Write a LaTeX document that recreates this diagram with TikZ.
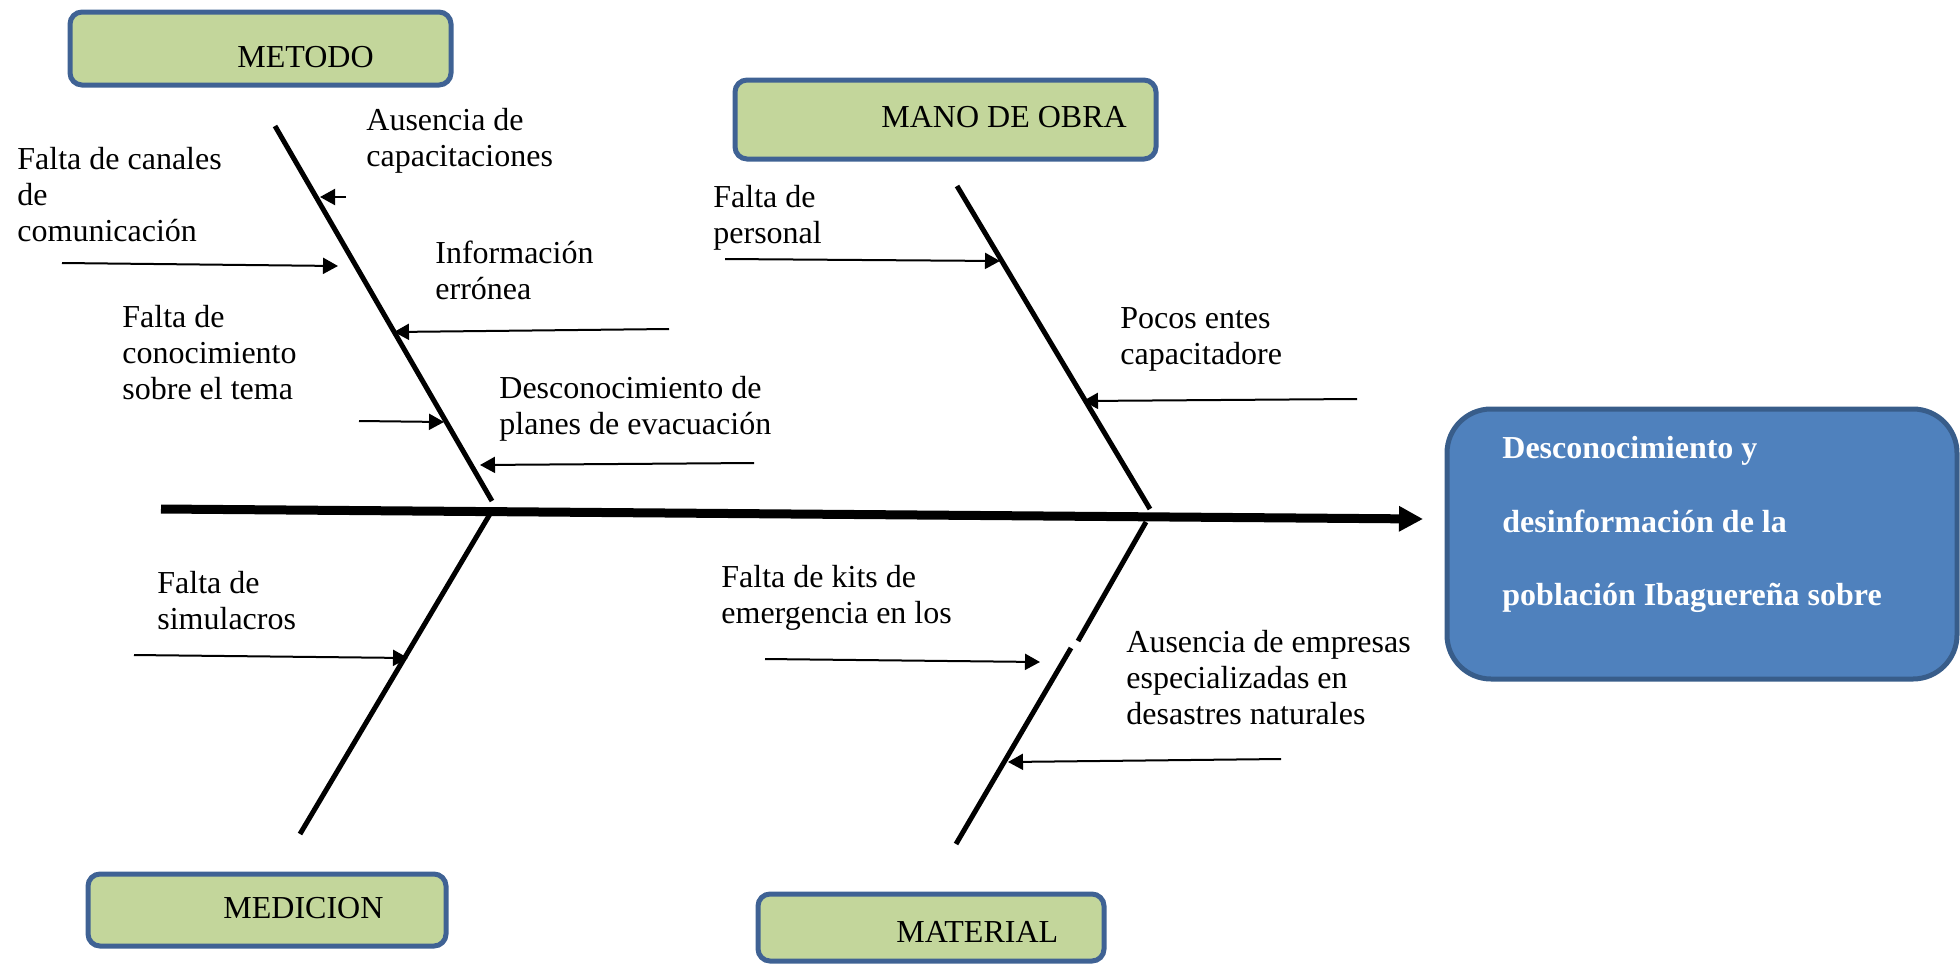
\documentclass[tikz,border=0pt]{standalone}
\usepackage{fontspec}
\setmainfont{Liberation Serif}
\usetikzlibrary{arrows.meta,fit}
\definecolor{boxfill}{HTML}{C3D69B}
\definecolor{boxline}{HTML}{3F6294}
\definecolor{effill}{HTML}{4F81BD}
\definecolor{efline}{HTML}{385D8A}
\newcommand\myfirststrut{\rule{0pt}{12.6pt}}
\begin{document}
\begin{tikzpicture}[x=0.5pt,y=-0.5pt,
  catbox/.style={draw=boxline, line width=2.5pt, fill=boxfill, rounded corners=6pt, inner sep=0pt},
  effbox/.style={draw=efline, line width=2.5pt, fill=effill, rounded corners=22pt, inner sep=0pt},
  cattext/.style={anchor=base west, inner sep=0pt, font=\fontsize{16}{18}\selectfont},
  lbl/.style={anchor=north west, inner sep=0pt, align=left, font=\fontsize{16}{18}\selectfont},
  efftext/.style={anchor=north west, inner sep=0pt, align=left, text=white, font=\fontsize{16}{36.75}\selectfont\bfseries},
  bone/.style={line width=2.5pt},
  spine/.style={line width=4.5pt, -{Triangle[length=12pt,width=12pt]}},
  arr/.style={line width=1pt, -{Triangle[length=7.5pt,width=8pt]}},
]
\useasboundingbox (0,0) rectangle (1960,964);

% category boxes
\node[catbox, fit={(70,12) (451,85)}] (metodo) {};
\node[cattext] (metodoT) at (237,67) {METODO};
\node[catbox, fit={(735,80) (1156,159)}] (mano) {};
\node[cattext] (manoT) at (881,127) {MANO DE OBRA};
\node[catbox, fit={(88,874) (446,946)}] (medicion) {};
\node[cattext] (medicionT) at (223,918) {MEDICION};
\node[catbox, fit={(758,894) (1104,961)}] (material) {};
\node[cattext] (materialT) at (896,942) {MATERIAL};

% effect box
\node[effbox, fit={(1447,409) (1957,679)}] (effect) {};
\node[efftext] (effectT) at (1502,433) {\myfirststrut Desconocimiento y\\desinformación de la\\población Ibaguereña sobre};

% spine
\coordinate (s0) at (161,509);
\coordinate (s1) at (1423,519);
\draw[spine] (s0) -- (s1);

% bones
\coordinate (b1a) at (275,126); \coordinate (b1b) at (492,501);
\coordinate (b2a) at (957,186); \coordinate (b2b) at (1150,509);
\coordinate (b3a) at (490,514); \coordinate (b3b) at (300,834);
\coordinate (b4a) at (1146,522); \coordinate (b4m1) at (1078,641);
\coordinate (b4m2) at (1071,648); \coordinate (b4b) at (956,844);
\draw[bone] (b1a) -- (b1b);
\draw[bone] (b2a) -- (b2b);
\draw[bone] (b3a) -- (b3b);
\draw[bone] (b4a) -- (b4m1);
\draw[bone] (b4m2) -- (b4b);

% labels
\node[lbl] (l1) at (366,105) {\myfirststrut Ausencia de\\capacitaciones};
\node[lbl] (l2) at (17,144) {\myfirststrut Falta de canales\\de\\comunicación};
\node[lbl] (l3) at (435,238) {\myfirststrut Información\\errónea};
\node[lbl] (l4) at (122,302) {\myfirststrut Falta de\\conocimiento\\sobre el tema};
\node[lbl] (l5) at (499,373) {\myfirststrut Desconocimiento de\\planes de evacuación};
\node[lbl] (l6) at (713,182) {\myfirststrut Falta de\\personal};
\node[lbl] (l7) at (1120,303) {\myfirststrut Pocos entes\\capacitadore};
\node[lbl] (l8) at (157,568) {\myfirststrut Falta de\\simulacros};
\node[lbl] (l9) at (721,562) {\myfirststrut Falta de kits de\\emergencia en los};
\node[lbl] (l10) at (1126,627) {\myfirststrut Ausencia de empresas\\especializadas en\\desastres naturales};

% cause arrows
\coordinate (a1s) at (346,197); \coordinate (a1e) at (320,197);
\coordinate (a2s) at (62,263); \coordinate (a2e) at (338,266);
\coordinate (a3s) at (669,329); \coordinate (a3e) at (394,332);
\coordinate (a4s) at (359,421); \coordinate (a4e) at (444,422);
\coordinate (a5s) at (754,463); \coordinate (a5e) at (480,465);
\coordinate (a6s) at (725,259); \coordinate (a6e) at (1000,261);
\coordinate (a7s) at (1357,399); \coordinate (a7e) at (1083,401);
\coordinate (a8s) at (134,655); \coordinate (a8e) at (408,658);
\coordinate (a9s) at (765,659); \coordinate (a9e) at (1040,662);
\coordinate (a10s) at (1281,759); \coordinate (a10e) at (1008,762);
\foreach \i in {1,...,10} { \draw[arr] (a\i s) -- (a\i e); }
\end{tikzpicture}
\end{document}
